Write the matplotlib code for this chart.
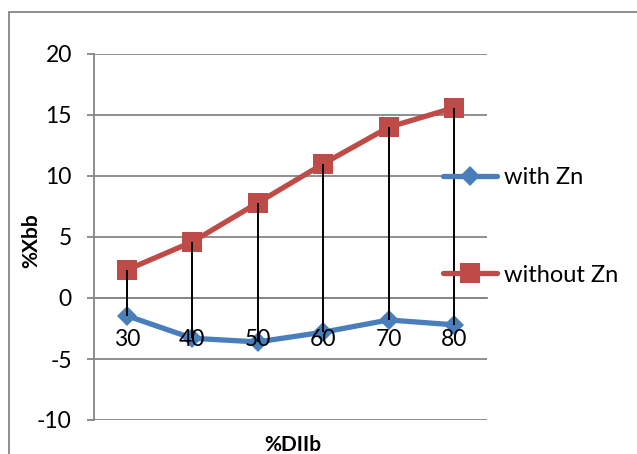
import matplotlib
matplotlib.use("Agg")
import matplotlib.pyplot as plt
from matplotlib.patches import Rectangle

# data
categories = ["30", "40", "50", "60", "70", "80"]
with_zn = [-1.45, -3.3, -3.6, -2.8, -1.8, -2.2]
without_zn = [2.3, 4.6, 7.8, 11.0, 14.0, 15.6]
y_ticks = [-10, -5, 0, 5, 10, 15, 20]

BLUE = "#4a7ebb"
RED = "#be4b48"
GRID = "#868686"

plt.rcParams["font.family"] = ["Lato", "DejaVu Sans"]

W, H = 637, 454
fig = plt.figure(figsize=(W / 100, H / 100), dpi=100)

# chart area frame
fig.patches.append(Rectangle((9 / W, -0.2), 2.0, 1.2 - 12 / H,
                             transform=fig.transFigure, fill=False,
                             edgecolor=GRID, linewidth=1.3))

ax = fig.add_axes([94 / W, 1 - 420 / H, 393 / W, 366 / H])
x = list(range(len(categories)))

# high-low lines between the two series
ax.vlines(x, with_zn, without_zn, colors="black", linewidth=1.4, zorder=4)

ax.plot(x, with_zn, color=BLUE, linewidth=3.8, marker="D", markersize=10,
        markeredgewidth=0, label="with Zn", zorder=3, solid_capstyle="round")
ax.plot(x, without_zn, color=RED, linewidth=3.8, marker="s", markersize=14,
        markeredgewidth=0, label="without Zn", zorder=3, solid_capstyle="round")

ax.set_xlim(-0.5, len(categories) - 0.5)
ax.set_ylim(-10, 20)
ax.set_yticks(y_ticks)
ax.set_yticklabels([str(v) for v in y_ticks])
ax.set_xticks(x)
ax.set_xticklabels(categories)

ax.set_axisbelow(True)
ax.xaxis.set_zorder(5)
ax.grid(axis="y", color=GRID, linewidth=1.3)

for side in ["top", "right"]:
    ax.spines[side].set_visible(False)
ax.spines["left"].set_color(GRID)
ax.spines["left"].set_linewidth(1.3)
ax.spines["bottom"].set_position(("data", 0))
ax.spines["bottom"].set_color(GRID)
ax.spines["bottom"].set_linewidth(1.3)

ax.tick_params(axis="y", length=5, width=1.3, color=GRID, pad=11, labelsize=16.5)
ax.tick_params(axis="x", length=0, pad=22, labelsize=16.5)

ax.set_ylabel("%Xbb", fontsize=15, fontweight="bold")
ax.yaxis.set_label_coords(-0.135, 0.489)
ax.set_xlabel("%DIIb", fontsize=15, fontweight="bold", va="center")
ax.xaxis.set_label_coords(0.505, -0.068)

fig.legend(loc="upper left", bbox_to_anchor=(443 / W, 1 - 167 / H),
           frameon=False, fontsize=17, handlelength=2.3, handletextpad=0.3,
           labelspacing=3.25, borderpad=0, borderaxespad=0)

fig.savefig("out.png", dpi=100)
